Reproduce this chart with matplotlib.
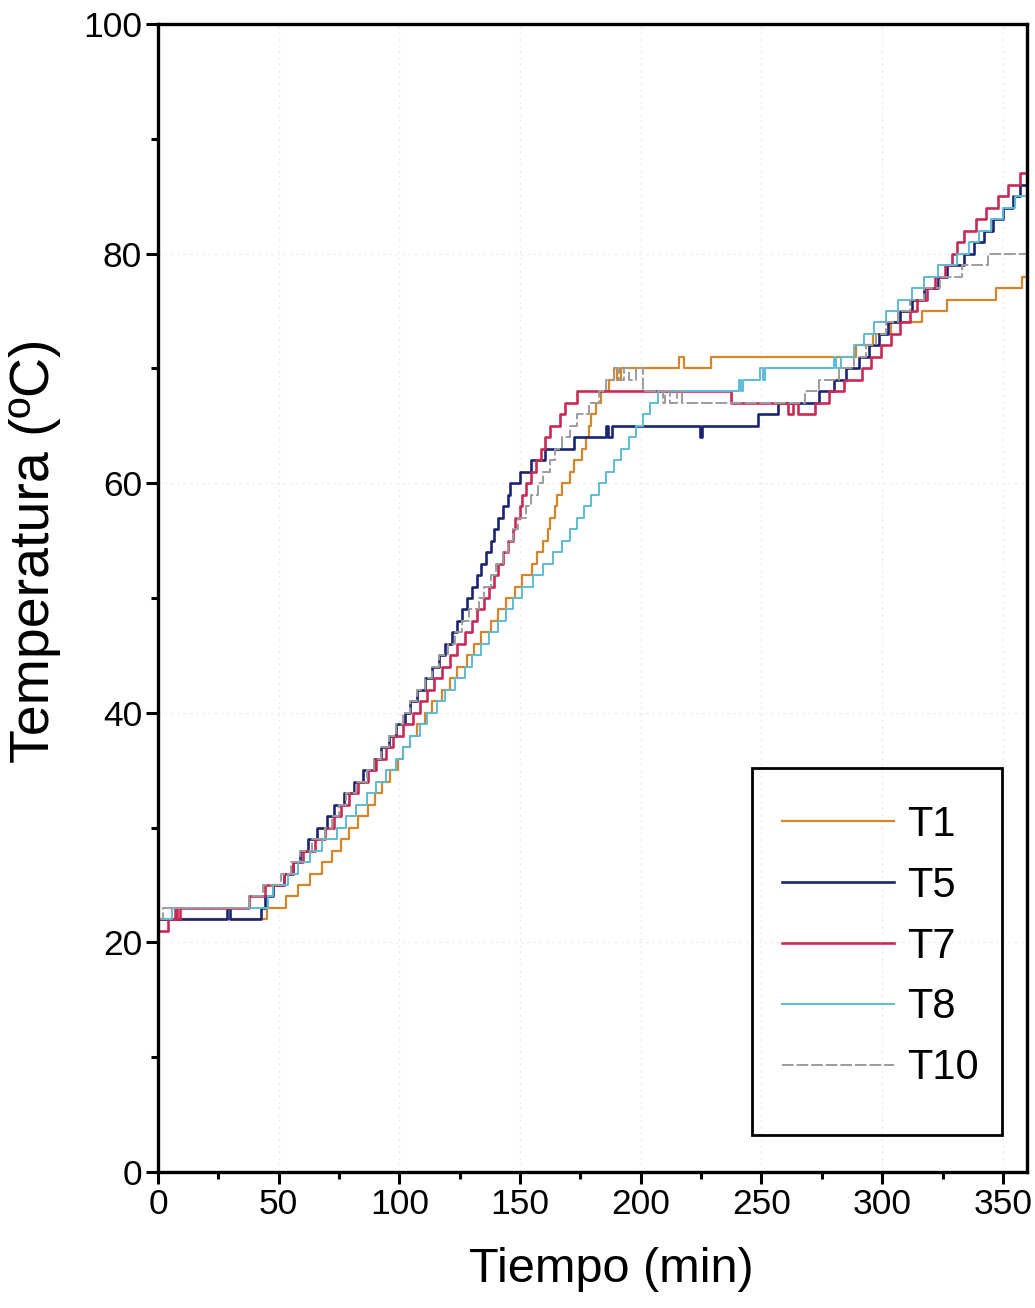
import numpy as np
import matplotlib.pyplot as plt
from matplotlib.patches import Rectangle

plt.rcParams['font.family'] = ['Liberation Sans', 'DejaVu Sans']

# ---- datos (tiempo en min, temperatura en ºC, escalones) ----
t1_time = [0, 45, 53, 58, 63, 68, 72, 76, 79, 83, 87, 90, 93, 96, 99.5, 101.5, 104.5, 107.5,
           110.5, 113.5, 117.5, 121, 124, 128, 131, 134, 138, 141, 144, 148, 151, 155, 157,
           159.5, 161.5, 162.5, 164.5, 165.5, 167.5, 170.5, 172.5, 175.5, 177.5, 178.5,
           179.5, 181.5, 183.5, 187, 189, 190, 192, 216, 218, 229, 289, 296, 303.5, 316.5,
           327, 347, 358, 365]
t1_temp = [22, 23, 24, 25, 26, 27, 28, 29, 30, 31, 32, 33, 34, 35, 36, 37, 38, 39,
           40, 41, 42, 43, 44, 45, 46, 47, 48, 49, 50, 51, 52, 53, 54,
           55, 56, 57, 58, 59, 60, 61, 62, 63, 64, 65,
           66, 67, 68, 69, 70, 69, 70, 71, 70, 71, 72, 73, 74, 75,
           76, 77, 78, 78]

t5_time = [0, 28.5, 30, 42.5, 44.5, 47.5, 52, 56, 59, 62, 66, 70, 73, 77, 81, 85, 89.5, 92.5,
           95.5, 98.5, 102.5, 104.5, 107.5, 110.5, 113.5, 116.5, 119, 122, 124, 126, 128, 130,
           132, 134, 136, 138, 139, 141, 143, 145, 146, 150, 154.5, 160.5, 172.5, 185.5,
           186.5, 188, 224.5, 225.5, 248.5, 257, 274, 280, 285, 290.5, 294.5, 298.5, 302.5,
           307.5, 312.5, 317.5, 323, 327, 334, 338, 342, 346, 350, 354, 357, 365]
t5_temp = [22, 23, 22, 23, 24, 25, 26, 27, 28, 29, 30, 31, 32, 33, 34, 35, 36, 37,
           38, 39, 40, 41, 42, 43, 44, 45, 46, 47, 48, 49, 50, 51,
           52, 53, 54, 55, 56, 57, 58, 59, 60, 61, 62, 63, 64, 65,
           64, 65, 64, 65, 66, 67, 68, 69, 70, 71, 72, 73, 74,
           75, 76, 77, 78, 79, 80, 81, 82, 83, 84, 85, 86, 86]

t7_time = [0, 4, 7, 8, 9, 37.5, 44.5, 52, 56, 60, 65, 69, 73, 76, 79, 83, 87, 90.5, 94.5,
           97.5, 101.5, 105.5, 108.5, 111.5, 114.5, 117.5, 121, 124, 127, 130, 132, 135, 137,
           139, 141, 143, 145, 147, 148, 150, 151, 152.5, 154.5, 156.5, 158.5, 160.5, 162.5,
           166.5, 168.5, 173.5, 237.5, 261, 263, 265, 272, 278, 284, 291.5, 295.5, 299.5,
           303.5, 307.5, 311.5, 314.5, 318.5, 322, 326, 329, 331, 334, 339, 343, 348, 352,
           357, 365]
t7_temp = [21, 22, 23, 22, 23, 24, 25, 26, 27, 28, 29, 30, 31, 32, 33, 34, 35, 36, 37,
           38, 39, 40, 41, 42, 43, 44, 45, 46, 47, 48, 49, 50, 51,
           52, 53, 54, 55, 56, 57, 58, 59, 60, 61, 62, 63, 64, 65,
           66, 67, 68, 67, 66, 67, 66, 67, 68, 69, 70, 71, 72,
           73, 74, 75, 76, 77, 78, 79, 80, 81, 82, 83, 84, 85, 86,
           87, 87]

t8_time = [0, 6, 45.5, 47.5, 54, 58, 63, 68, 74, 78, 82, 86.5, 90.5, 94.5, 98.5, 101.5,
           104.5, 108.5, 111.5, 115.5, 119, 123, 127, 130, 134, 137, 141, 144, 147, 151,
           155.5, 159.5, 163.5, 167.5, 170.5, 173.5, 176.5, 179.5, 182.5, 185.5, 189, 192,
           195, 198, 201, 204, 207, 240.5, 241.5, 242.5, 249.5, 250.5, 251.5, 280, 281, 283,
           288.5, 292.5, 296.5, 301.5, 306.5, 312.5, 317.5, 323, 331, 336, 340, 345, 350,
           355, 365]
t8_temp = [22, 23, 24, 25, 26, 27, 28, 29, 30, 31, 32, 33, 34, 35, 36, 37,
           38, 39, 40, 41, 42, 43, 44, 45, 46, 47, 48, 49, 50, 51,
           52, 53, 54, 55, 56, 57, 58, 59, 60, 61, 62, 63,
           64, 65, 66, 67, 68, 69, 68, 69, 70, 69, 70, 71, 70, 71,
           72, 73, 74, 75, 76, 77, 78, 79, 80, 81, 82, 83, 84,
           85, 85]

t10_time = [0, 2, 37.5, 43.5, 51, 55, 59, 64, 69, 72, 75, 78, 82, 86.5, 89.5, 92.5, 95.5,
            98.5, 101.5, 104.5, 107.5, 110.5, 113.5, 116.5, 120, 123, 126, 129, 133, 135,
            138, 140, 143, 145, 147, 149, 152.5, 154.5, 157.5, 159.5, 162.5, 164.5, 167.5,
            170.5, 173.5, 178.5, 182.5, 185.5, 189, 191, 193, 195, 198, 201, 209, 210, 212,
            215, 217, 268, 274, 282, 288.5, 293.5, 297.5, 301.5, 306.5, 311.5, 317.5, 324,
            333, 344, 365]
t10_temp = [22, 23, 24, 25, 26, 27, 28, 29, 30, 31, 32, 33, 34, 35, 36, 37, 38,
            39, 40, 41, 42, 43, 44, 45, 46, 47, 48, 49, 50, 51,
            52, 53, 54, 55, 56, 57, 58, 59, 60, 61, 62, 63, 64,
            65, 66, 67, 68, 69, 70, 69, 70, 69, 70, 68, 67, 68, 67,
            68, 67, 68, 69, 70, 71, 72, 73, 74, 75, 76, 77, 78,
            79, 80, 80]

series = [
    ('T1', t1_time, t1_temp, '#d4862c', 1.6, '-'),
    ('T5', t5_time, t5_temp, '#1b2472', 1.9, '-'),
    ('T7', t7_time, t7_temp, '#c82a55', 1.9, '-'),
    ('T8', t8_time, t8_temp, '#5cbcd4', 1.4, '-'),
    ('T10', t10_time, t10_temp, '#9c9c9c', 1.4, (0, (6, 1.5))),
]

fig = plt.figure(figsize=(10.35, 13.08), dpi=100)
ax = fig.add_axes([158 / 1035, 136 / 1308, 869 / 1035, 1148 / 1308])

for name, tt, temp, color, lw, ls in series:
    ax.plot(tt, temp, drawstyle='steps-post', color=color, lw=lw, ls=ls, label=name)

ax.set_xlim(0, 360)
ax.set_ylim(0, 100)
ax.set_xticks(np.arange(0, 351, 50))
ax.set_xticks(np.arange(25, 351, 50), minor=True)
ax.set_yticks(np.arange(0, 101, 20))
ax.set_yticks(np.arange(10, 100, 20), minor=True)

for s in ax.spines.values():
    s.set_linewidth(2.4)
ax.tick_params(which='major', direction='out', length=8.5, width=2.2, labelsize=25.5, pad=3)
ax.tick_params(which='minor', direction='out', length=5, width=2.2)

ax.grid(True, which='major', color='#ececec', lw=0.9, ls=(0, (2, 3)))
ax.set_axisbelow(True)

ax.set_xlabel('Tiempo (min)', fontsize=35)
ax.set_ylabel('Temperatura (ºC)', fontsize=40)
ax.xaxis.set_label_coords(0.522, -0.065)
ax.yaxis.set_label_coords(-0.112, 0.541)

leg = ax.legend(loc='upper left', bbox_to_anchor=(0.718, 0.3197), frameon=False,
                fontsize=30, handlelength=2.7, handletextpad=0.3, labelspacing=0.5,
                borderpad=0, borderaxespad=0)
ax.add_patch(Rectangle((0.6835, 0.0322), 0.2877, 0.3197, transform=ax.transAxes,
                       fill=False, lw=2.0, ec='black', zorder=5))

plt.savefig('out.png', dpi=100)
